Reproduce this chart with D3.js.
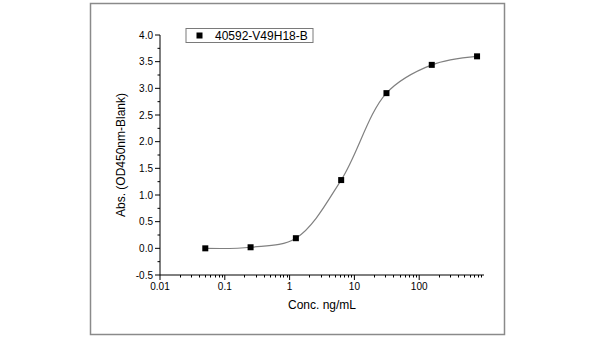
<!DOCTYPE html>
<html><head><meta charset="utf-8">
<script src="https://cdn.jsdelivr.net/npm/d3@7"></script>
<style>body{margin:0;background:#fff}svg{display:block;font-family:Arial,"Liberation Sans",sans-serif}</style>
</head><body>
<svg id="c" width="600" height="338"></svg>
<script>
const seriesName = "40592-V49H18-B";
const conc = [0.05, 0.25, 1.25, 6.25, 31.25, 156.25, 781.25];
const absorb = [0.0, 0.02, 0.19, 1.28, 2.91, 3.44, 3.60];
const xTicks = [0.01, 0.1, 1, 10, 100];
const xTickLabels = ["0.01", "0.1", "1", "10", "100"];
const yTicks = [-0.5, 0.0, 0.5, 1.0, 1.5, 2.0, 2.5, 3.0, 3.5, 4.0];

const svg = d3.select("#c");
svg.append("rect").attr("x",90.5).attr("y",3.5).attr("width",414).attr("height",331)
  .attr("fill","none").attr("stroke","#8a8a8a").attr("stroke-width",1.5);

const x = d3.scaleLog().domain([0.01, 1000]).range([160, 484]);
const y = d3.scaleLinear().domain([-0.5, 4.0]).range([275, 35]);

const xMinor = [];
for (let e=-2;e<3;e++) for (let k=2;k<10;k++) xMinor.push(k*Math.pow(10,e));
const yMinor = d3.range(-0.25, 4.0, 0.5);

const gx = svg.append("g").attr("transform","translate(0,275)");
gx.append("line").attr("x1",160).attr("x2",484).attr("stroke","#000");
gx.selectAll(".mj").data(xTicks).join("line").attr("x1",d=>x(d)).attr("x2",d=>x(d)).attr("y1",0).attr("y2",5).attr("stroke","#000");
gx.selectAll(".mn").data(xMinor).join("line").attr("x1",d=>Math.round(x(d))+0.5).attr("x2",d=>Math.round(x(d))+0.5).attr("y1",0).attr("y2",2.5).attr("stroke","#000");
gx.selectAll("text").data(xTicks).join("text").attr("x",d=>x(d)).attr("y",15).attr("text-anchor","middle")
  .attr("font-size",10).attr("fill","#000").text((d,i)=>xTickLabels[i]);

const gy = svg.append("g").attr("transform","translate(160,0)");
gy.append("line").attr("y1",35).attr("y2",275).attr("stroke","#000");
gy.selectAll(".mj").data(yTicks).join("line").attr("y1",d=>y(d)).attr("y2",d=>y(d)).attr("x1",0).attr("x2",-5).attr("stroke","#000");
gy.selectAll(".mn").data(yMinor).join("line").attr("y1",d=>y(d)).attr("y2",d=>y(d)).attr("x1",0).attr("x2",-2.5).attr("stroke","#000");
gy.selectAll("text").data(yTicks).join("text").attr("x",-7).attr("y",d=>y(d)+3.5).attr("text-anchor","end")
  .attr("font-size",10).attr("fill","#000").text(d=>d.toFixed(1));

svg.append("text").attr("x",322).attr("y",309).attr("text-anchor","middle").attr("font-size",12).text("Conc. ng/mL");
svg.append("text").attr("transform","translate(125,155) rotate(-90)").attr("text-anchor","middle").attr("font-size",12).text("Abs. (OD450nm-Blank)");

const data = conc.map((c,i)=>({c, v:absorb[i]}));
const line = d3.line().x(d=>x(d.c)).y(d=>y(d.v)).curve(d3.curveCatmullRom.alpha(0.5));
svg.append("path").datum(data).attr("d",line).attr("fill","none").attr("stroke","#808080").attr("stroke-width",1.2);

svg.selectAll(".pt").data(data).join("rect").attr("x",d=>x(d.c)-3).attr("y",d=>y(d.v)-3).attr("width",6).attr("height",6).attr("fill","#000");

svg.append("rect").attr("x",186).attr("y",28.5).attr("width",127).attr("height",14).attr("fill","#fff").attr("stroke","#7a7a7a").attr("stroke-width",1);
svg.append("rect").attr("x",196.5).attr("y",32.5).attr("width",6).attr("height",6).attr("fill","#000");
svg.append("text").attr("x",215).attr("y",40).attr("font-size",12).text(seriesName);
</script>
</body></html>
